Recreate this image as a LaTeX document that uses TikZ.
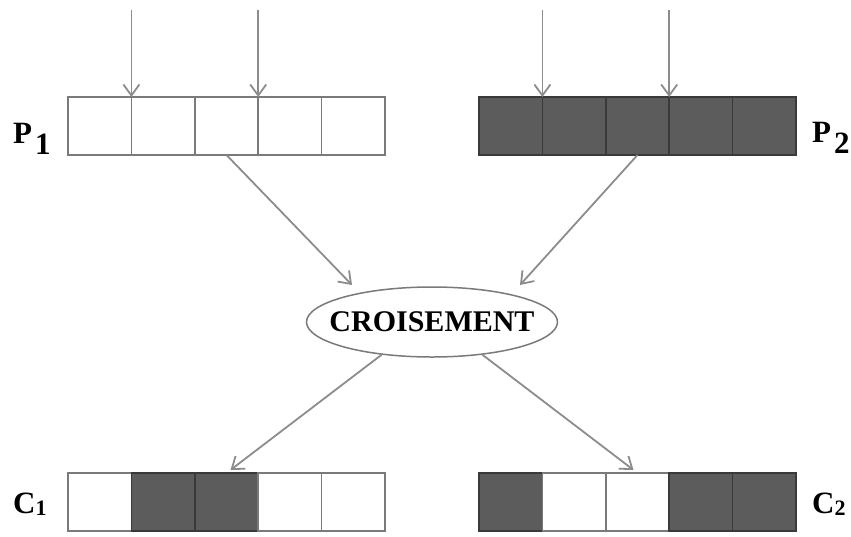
\documentclass[tikz,border=0pt]{standalone}
\usepackage{fontspec}
\setmainfont{Liberation Serif}
\usetikzlibrary{arrows.meta,positioning,shapes.geometric}
\definecolor{genedark}{HTML}{5C5C5C}
\definecolor{genedraw}{HTML}{3A3A3A}
\definecolor{geneline}{HTML}{7A7A7A}
\definecolor{arrowgray}{HTML}{8C8C8C}

\begin{document}
\begin{tikzpicture}[
        x=1pt, y=-1pt,
        cell/.style={
          draw=geneline,
          line width=1.6pt,
          minimum width=63.4pt,
          minimum height=58pt,
          inner sep=0pt,
          outer sep=0pt
        },
        light/.style={cell, fill=white},
        dark/.style={cell, fill=genedark, draw=genedraw},
        arrow/.style={
          -{Straight Barb[length=11pt,width=16pt]},
          line width=1.8pt,
          arrowgray
        },
        tag/.style={
          font=\fontsize{31}{31}\selectfont\bfseries,
          anchor=base west,
          inner sep=0pt
        }
      ]

      \useasboundingbox (0,0) rectangle (851,536);

      % parents
      \node[light, anchor=west] (p1a) at (68,126) {};
      \node[light, right=0pt of p1a] (p1b) {};
      \node[light, right=0pt of p1b] (p1c) {};
      \node[light, right=0pt of p1c] (p1d) {};
      \node[light, right=0pt of p1d] (p1e) {};

      \node[dark, anchor=west] (p2a) at (479,126) {};
      \node[dark, right=0pt of p2a] (p2b) {};
      \node[dark, right=0pt of p2b] (p2c) {};
      \node[dark, right=0pt of p2c] (p2d) {};
      \node[dark, right=0pt of p2d] (p2e) {};

      % children
      \node[light, anchor=west] (c1a) at (68,502) {};
      \node[dark, right=0pt of c1a] (c1b) {};
      \node[dark, right=0pt of c1b] (c1c) {};
      \node[light, right=0pt of c1c] (c1d) {};
      \node[light, right=0pt of c1d] (c1e) {};

      \node[dark, anchor=west] (c2a) at (479,502) {};
      \node[light, right=0pt of c2a] (c2b) {};
      \node[light, right=0pt of c2b] (c2c) {};
      \node[dark, right=0pt of c2c] (c2d) {};
      \node[dark, right=0pt of c2d] (c2e) {};

      % labels
      \node[tag] (lp1) at (13,143) {P\kern3pt\raisebox{-0.38em}{1}};
      \node[tag] (lp2) at (812,142) {P\kern3pt\raisebox{-0.36em}{2}};
      \node[tag] (lc1) at (13,513) {C\raisebox{-0.08em}{\fontsize{22}{22}\selectfont 1}};
      \node[tag] (lc2) at (812,513) {C\raisebox{-0.08em}{\fontsize{22}{22}\selectfont 2}};

      \node[ellipse, draw=geneline, line width=1.5pt, fill=white,
            minimum width=251pt, minimum height=70pt,
            inner xsep=-20pt, inner ysep=0pt,
            font=\fontsize{30}{30}\selectfont\bfseries] (cross) at (432,322) {CROISEMENT};

      % crossover points
      \coordinate[above=87pt of p1a.north east] (cut1);
      \coordinate[above=87pt of p1c.north east] (cut2);
      \coordinate[above=87pt of p2a.north east] (cut3);
      \coordinate[above=87pt of p2c.north east] (cut4);
      \coordinate (inL) at (352,285);
      \coordinate (inR) at (520,285);

      \draw[arrow] (cut1) -- (p1a.north east);
      \draw[arrow] (cut2) -- (p1c.north east);
      \draw[arrow] (cut3) -- (p2a.north east);
      \draw[arrow] (cut4) -- (p2c.north east);

      \draw[arrow] (p1c.south) -- (inL);
      \draw[arrow] (p2c.south) -- (inR);
      \draw[arrow, shorten >=5pt] (cross.213) -- (c1c.north);
      \draw[arrow, shorten >=5pt] (cross.327) -- (c2c.north);

      \end{tikzpicture}
\end{document}
